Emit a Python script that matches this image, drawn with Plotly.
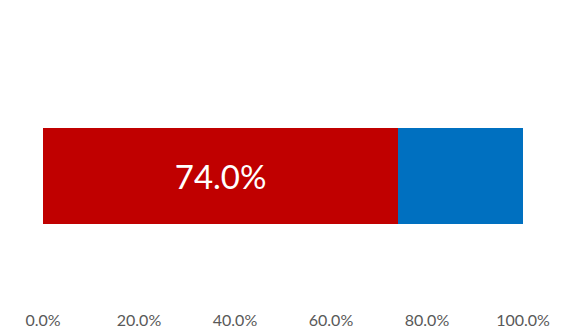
import plotly.graph_objects as go

categories = ["Share"]
red_values = [0.74]
blue_values = [0.26]
tick_vals = [0, 0.2, 0.4, 0.6, 0.8, 1.0]
tick_text = ["0.0%", "20.0%", "40.0%", "60.0%", "80.0%", "100.0%"]

fig = go.Figure()
fig.add_trace(go.Bar(
    y=categories, x=red_values, orientation="h",
    marker=dict(color="#C00000", line=dict(width=0)),
    width=0.372,
    texttemplate="%{x:.1%}", textposition="inside", insidetextanchor="middle",
    textfont=dict(color="white", size=33, family="Lato"),
    hoverinfo="skip",
))
fig.add_trace(go.Bar(
    y=categories, x=blue_values, orientation="h",
    marker=dict(color="#0070C0", line=dict(width=0)),
    width=0.372,
    hoverinfo="skip",
))
fig.update_layout(
    barmode="stack",
    width=565, height=335,
    margin=dict(l=43, r=42, t=47, b=30, autoexpand=False),
    paper_bgcolor="white", plot_bgcolor="white",
    showlegend=False,
    xaxis=dict(range=[0, 1], tickvals=tick_vals, ticktext=tick_text,
               showgrid=False, zeroline=False, showline=False, ticks="",
               automargin=False, ticklabelstandoff=4,
               tickfont=dict(family="Lato", size=16, color="#595959")),
    yaxis=dict(showticklabels=False, showgrid=False, zeroline=False,
               showline=False, ticks="", range=[-0.5, 0.5], automargin=False),
)
fig.write_html("out.html")
